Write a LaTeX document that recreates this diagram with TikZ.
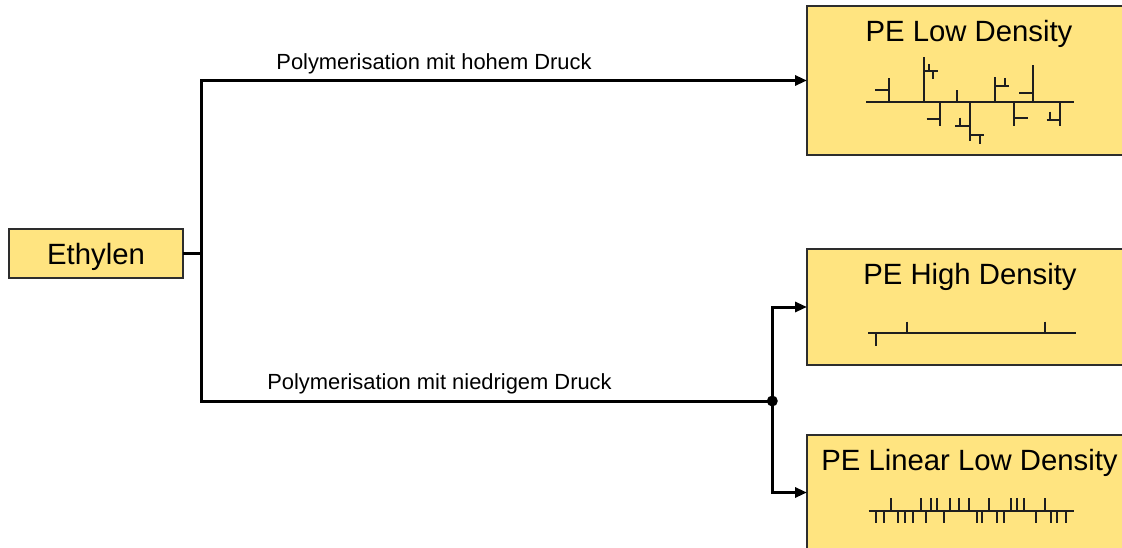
\documentclass[tikz,border=0pt]{standalone}
\usepackage{fontspec}
\setmainfont{Liberation Sans}
\usetikzlibrary{arrows.meta}
\definecolor{boxfill}{RGB}{255,228,128}
\definecolor{boxline}{RGB}{45,45,45}
\definecolor{chainc}{RGB}{30,30,30}
\begin{document}
\begin{tikzpicture}[x=1pt,y=-1pt,
  box/.style={draw=boxline, line width=1.5pt, fill=boxfill, inner sep=0pt, outer sep=0pt, anchor=north west},
  boxtitle/.style={anchor=base, inner sep=0pt, font=\fontsize{29.3}{34}\selectfont},
  steplabel/.style={anchor=base, inner sep=0pt, font=\fontsize{21.9}{26}\selectfont},
  conn/.style={line width=3pt, line join=miter},
  arr/.style={conn, -{Triangle[length=12pt,width=10pt]}},
  chain/.style={line width=2pt, draw=chainc}]
\useasboundingbox (0,0) rectangle (1122,548);
\clip (0,0) rectangle (1122,548);

% boxes
\node[box, minimum width=174pt, minimum height=49pt] (eth) at (9,229) {};
\node[box, minimum width=333pt, minimum height=149pt] (ldpe) at (807,6) {};
\node[box, minimum width=333pt, minimum height=116pt] (hdpe) at (807,249) {};
\node[box, minimum width=333pt, minimum height=115pt] (lld) at (807,435) {};

% titles
\node[boxtitle] (etht) at (96,265) {Ethylen};
\node[boxtitle] (ldpet) at (969,41.7) {PE Low Density};
\node[boxtitle] (hdpet) at (970,284) {PE High Density};
\node[boxtitle] (lldt) at (969.5,470) {PE Linear Low Density};

% connectors
\coordinate (forkx) at (201,0);
\coordinate (fork) at (eth.east -| forkx);
\coordinate (split) at (772.3,401);
\draw[conn] (eth.east) -- (fork);
\draw[arr] (fork) |- (ldpe.west);
\draw[conn] (fork) |- (split);
\draw[arr] (split) |- (hdpe.west);
\draw[arr] (split) |- (lld.west);
\fill (split) circle[radius=5.5pt];

% labels
\node[steplabel] (lblhigh) at (434,69.3) {Polymerisation mit hohem Druck};
\node[steplabel] (lbllow) at (439.5,389.3) {Polymerisation mit niedrigem Druck};

% LDPE molecule
\draw[chain] (866,101.7) -- (1074,101.7);
\draw[chain] (889,101.7) -- (889,78);
\draw[chain] (875,90) -- (889,90);
\draw[chain] (924,101.7) -- (924,57);
\draw[chain] (924,71.3) -- (938,71.3);
\draw[chain] (928.7,64.3) -- (928.7,71.3);
\draw[chain] (933.3,71.3) -- (933.3,79.3);
\draw[chain] (940,101.7) -- (940,126);
\draw[chain] (926.7,119) -- (940,119);
\draw[chain] (957,101.7) -- (957,90);
\draw[chain] (970,101.7) -- (970,140.7);
\draw[chain] (955,125.7) -- (970,125.7);
\draw[chain] (959.7,117.7) -- (959.7,125.7);
\draw[chain] (970,135.3) -- (984,135.3);
\draw[chain] (980,135.3) -- (980,144.3);
\draw[chain] (994.7,101.7) -- (994.7,77.3);
\draw[chain] (994.7,86) -- (1008.7,86);
\draw[chain] (1005,78) -- (1005,86);
\draw[chain] (1033.3,101.7) -- (1033.3,65);
\draw[chain] (1019.3,92.7) -- (1033.3,92.7);
\draw[chain] (1013.7,101.7) -- (1013.7,126);
\draw[chain] (1013.7,117.7) -- (1027.7,117.7);
\draw[chain] (1060,101.7) -- (1060,126);
\draw[chain] (1046.7,119.7) -- (1060,119.7);
\draw[chain] (1050,111.7) -- (1050,119.7);

% HDPE molecule
\draw[chain] (868,333.3) -- (1075.7,333.3);
\draw[chain] (876,333.3) -- (876,346);
\draw[chain] (907,321.7) -- (907,333.3);
\draw[chain] (1045,321.7) -- (1045,333.3);

% LLDPE molecule
\draw[chain] (868.5,510.7) -- (1074,510.7);
\foreach \u in {891,920.7,930.7,937,950,959.3,968.7,989,1011,1017,1023.7,1045}
  \draw[chain] (\u,510.7) -- (\u,498);
\foreach \d in {876,883.5,897.5,905,912.8,925.8,943.7,976.5,981.7,997,1004.3,1036,1050.5,1057,1066.3}
  \draw[chain] (\d,510.7) -- (\d,522.7);
\end{tikzpicture}
\end{document}
